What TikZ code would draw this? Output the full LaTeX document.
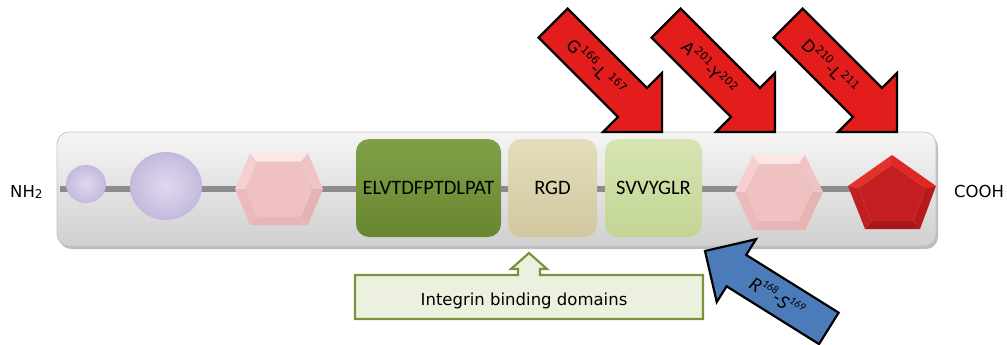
\documentclass[tikz,border=0pt]{standalone}
\usepackage{fontspec}
\setmainfont{DejaVu Sans}
\newfontfamily\carlito{Carlito}
\usetikzlibrary{calc}
\definecolor{barTop}{HTML}{F5F5F5}
\definecolor{barMid}{HTML}{DCDCDC}
\definecolor{barBot}{HTML}{D0D0D0}
\definecolor{barEdge}{HTML}{C4C4C4}
\definecolor{barShadow}{HTML}{BDBDBD}
\definecolor{bbGray}{HTML}{8C8C8C}
\definecolor{lavIn}{HTML}{E0D9EF}
\definecolor{lavOut}{HTML}{C4B9DD}
\definecolor{elvtTop}{HTML}{80A046}
\definecolor{elvtBot}{HTML}{688630}
\definecolor{rgdTop}{HTML}{E3DDBD}
\definecolor{rgdBot}{HTML}{D1C89E}
\definecolor{svvTop}{HTML}{D6E5B2}
\definecolor{svvBot}{HTML}{C2D594}
\definecolor{arrRed}{HTML}{E31C1C}
\definecolor{arrBlue}{HTML}{4C7BBA}
\definecolor{intFill}{HTML}{EBF1DE}
\definecolor{intEdge}{HTML}{77933C}
\definecolor{hxUL}{RGB}{245,208,208}
\definecolor{hxT}{RGB}{252,230,230}
\definecolor{hxUR}{RGB}{240,196,196}
\definecolor{hxLR}{RGB}{230,179,179}
\definecolor{hxB}{RGB}{232,182,182}
\definecolor{hxLL}{RGB}{235,186,186}
\definecolor{hxIn}{RGB}{240,193,193}
\definecolor{pnTR}{RGB}{222,40,36}
\definecolor{pnR}{RGB}{184,26,28}
\definecolor{pnB}{RGB}{170,22,26}
\definecolor{pnL}{RGB}{194,31,32}
\definecolor{pnTL}{RGB}{226,50,42}
\definecolor{pnIn}{RGB}{196,30,32}
\newcommand\sps[1]{\raisebox{0.45em}{\fontsize{11}{11}\selectfont #1}}
\newcommand\myfacet[4]{\fill[#4] (#1) -- (#2) -- ($(#3)!0.76!(#2)$) -- ($(#3)!0.76!(#1)$) -- cycle;}
\begin{document}
\begin{tikzpicture}[x=1pt,y=-1pt,
  lbl/.style={inner sep=0pt, font=\fontsize{16.5}{20}\selectfont},
  boxlbl/.style={inner sep=0pt, font=\carlito\fontsize{20.5}{24}\selectfont},
  arrlbl/.style={inner sep=0pt, font=\fontsize{16.5}{20}\selectfont},
  redarrow/.style={fill=arrRed, draw=black, line width=2.2pt, line join=miter},
  bluearrow/.style={fill=arrBlue, draw=black, line width=2.2pt, line join=miter},
  backbone/.style={draw=bbGray, line width=6.5pt}]
\useasboundingbox (0,0) rectangle (1007,345);

% bar
\fill[barShadow, rounded corners=12] (59,135) rectangle (938,249);
\shade[top color=barTop, middle color=barMid, bottom color=barBot, draw=barEdge, line width=0.8pt, rounded corners=12] (57,132) rectangle (936,246);

% backbone
\coordinate (bbL) at (60,189);
\coordinate (bbR) at (934,189);
\draw[backbone] (bbL) -- (bbR);

% circles
\shade[inner color=lavIn, outer color=lavOut] (86,184) ellipse [x radius=20, y radius=19];
\shade[inner color=lavIn, outer color=lavOut] (166,186) ellipse [x radius=36, y radius=34];

% hexagon 1
\coordinate (h1c) at (279,189);
\coordinate (h1a) at (235,189); \coordinate (h1b) at (250,153); \coordinate (h1d) at (308,153);
\coordinate (h1e) at (323,189); \coordinate (h1f) at (308,225); \coordinate (h1g) at (250,225);
\myfacet{h1a}{h1b}{h1c}{hxUL}
\myfacet{h1b}{h1d}{h1c}{hxT}
\myfacet{h1d}{h1e}{h1c}{hxUR}
\myfacet{h1e}{h1f}{h1c}{hxLR}
\myfacet{h1f}{h1g}{h1c}{hxB}
\myfacet{h1g}{h1a}{h1c}{hxLL}
\fill[hxIn] ($(h1c)!0.76!(h1a)$) -- ($(h1c)!0.76!(h1b)$) -- ($(h1c)!0.76!(h1d)$) -- ($(h1c)!0.76!(h1e)$) -- ($(h1c)!0.76!(h1f)$) -- ($(h1c)!0.76!(h1g)$) -- cycle;

% hexagon 2
\coordinate (h2c) at (779,192);
\coordinate (h2a) at (735,192); \coordinate (h2b) at (753,155); \coordinate (h2d) at (805,155);
\coordinate (h2e) at (823,192); \coordinate (h2f) at (805,230); \coordinate (h2g) at (753,230);
\myfacet{h2a}{h2b}{h2c}{hxUL}
\myfacet{h2b}{h2d}{h2c}{hxT}
\myfacet{h2d}{h2e}{h2c}{hxUR}
\myfacet{h2e}{h2f}{h2c}{hxLR}
\myfacet{h2f}{h2g}{h2c}{hxB}
\myfacet{h2g}{h2a}{h2c}{hxLL}
\fill[hxIn] ($(h2c)!0.76!(h2a)$) -- ($(h2c)!0.76!(h2b)$) -- ($(h2c)!0.76!(h2d)$) -- ($(h2c)!0.76!(h2e)$) -- ($(h2c)!0.76!(h2f)$) -- ($(h2c)!0.76!(h2g)$) -- cycle;

% pentagon
\coordinate (pc) at (892,196);
\coordinate (pt) at (892,155); \coordinate (pr) at (936,186); \coordinate (pbr) at (920,229);
\coordinate (pbl) at (865,229); \coordinate (pl) at (848,186);
\myfacet{pt}{pr}{pc}{pnTR}
\myfacet{pr}{pbr}{pc}{pnR}
\myfacet{pbr}{pbl}{pc}{pnB}
\myfacet{pbl}{pl}{pc}{pnL}
\myfacet{pl}{pt}{pc}{pnTL}
\fill[pnIn] ($(pc)!0.76!(pt)$) -- ($(pc)!0.76!(pr)$) -- ($(pc)!0.76!(pbr)$) -- ($(pc)!0.76!(pbl)$) -- ($(pc)!0.76!(pl)$) -- cycle;

% domain boxes
\shade[top color=elvtTop, bottom color=elvtBot, rounded corners=13] (356,139) rectangle (501,237);
\node[boxlbl] (elvt) at (428.5,188) {ELVTDFPTDLPAT};
\shade[top color=rgdTop, bottom color=rgdBot, rounded corners=13] (508,139) rectangle (597,237);
\node[boxlbl] (rgd) at (552.5,188) {RGD};
\shade[top color=svvTop, bottom color=svvBot, rounded corners=13] (605,139) rectangle (702,237);
\node[boxlbl] (svv) at (653.5,188) {SVVYGLR};

% terminal labels
\node[lbl, anchor=base west] (nh2) at (10,197) {NH\raisebox{-0.08em}{\fontsize{12}{12}\selectfont 2}};
\node[lbl, anchor=base west] (cooh) at (954,197) {COOH};

% red arrows
\begin{scope}[shift={(662,132)}, rotate=-45]
  \draw[redarrow] (0,0) -- (-41.7,41.7) -- (-41.7,20.5) -- (-154,20.5) -- (-154,-20.5) -- (-41.7,-20.5) -- (-41.7,-41.7) -- cycle;
  \node[arrlbl, rotate=-45] (cut1) at (-92,0) {G\sps{166}-L\,\sps{167}};
\end{scope}
\begin{scope}[shift={(775,132)}, rotate=-45]
  \draw[redarrow] (0,0) -- (-41.7,41.7) -- (-41.7,20.5) -- (-154,20.5) -- (-154,-20.5) -- (-41.7,-20.5) -- (-41.7,-41.7) -- cycle;
  \node[arrlbl, rotate=-45] (cut2) at (-92,0) {A\sps{201}-Y\sps{202}};
\end{scope}
\begin{scope}[shift={(897,132)}, rotate=-45]
  \draw[redarrow] (0,0) -- (-41.7,41.7) -- (-41.7,20.5) -- (-154,20.5) -- (-154,-20.5) -- (-41.7,-20.5) -- (-41.7,-41.7) -- cycle;
  \node[arrlbl, rotate=-45] (cut3) at (-94,0) {D\sps{210}-L\sps{211}};
\end{scope}

% integrin binding callout
\draw[fill=intFill, draw=intEdge, line width=2.2pt, line join=miter]
  (355,275) -- (518,275) -- (518,269) -- (511,269) -- (529,253) -- (547,269) -- (540,269) -- (540,275)
  -- (703,275) -- (703,319) -- (355,319) -- cycle;
\node[lbl, anchor=base] (integrin) at (524,305) {Integrin binding domains};

% blue arrow
\begin{scope}[shift={(705,251)}, rotate=148]
  \draw[bluearrow] (0,0) -- (-37,37) -- (-37,18.5) -- (-146,18.5) -- (-146,-18.5) -- (-37,-18.5) -- (-37,-37) -- cycle;
  \node[inner sep=0pt, rotate=-32, font=\carlito\itshape\fontsize{20}{22}\selectfont] (thr) at (-85,0) {R\sps{168}-S\sps{169}};
\end{scope}
\end{tikzpicture}
\end{document}
